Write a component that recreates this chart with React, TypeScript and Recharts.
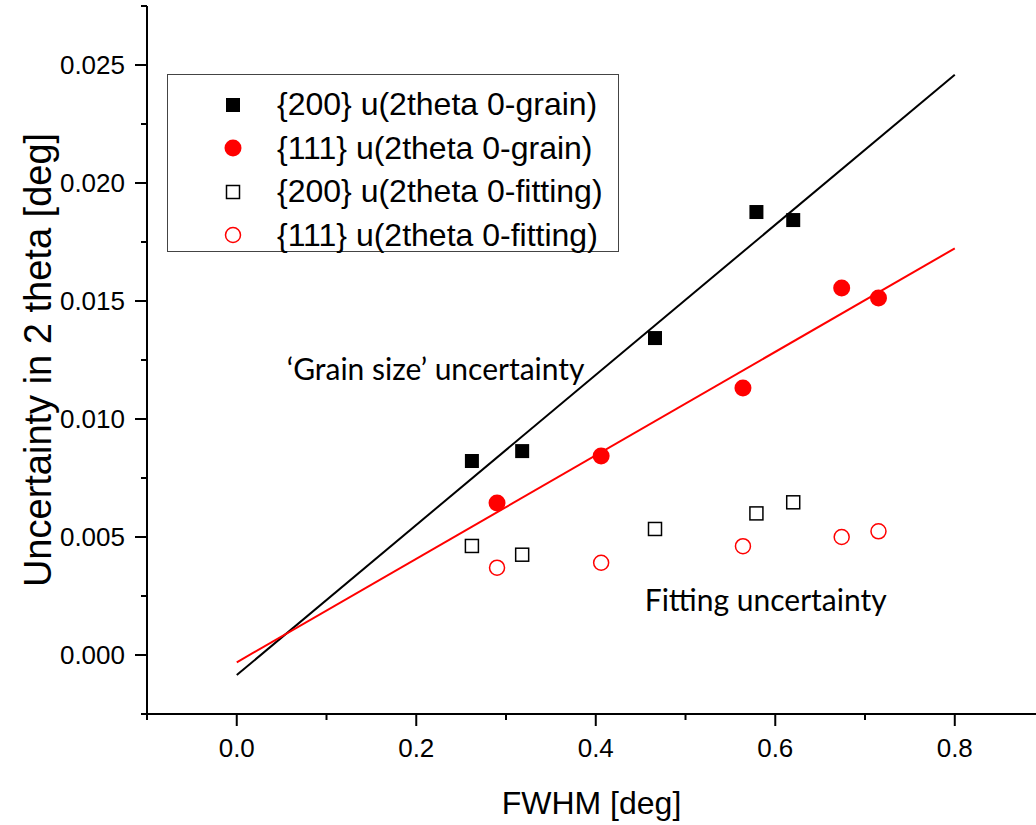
import React from 'react';
import { ScatterChart, Scatter, XAxis, YAxis, Legend, ReferenceDot } from 'recharts';

// ---- data ----
const x200 = [0.262, 0.318, 0.466, 0.579, 0.620];
const x111 = [0.290, 0.406, 0.564, 0.674, 0.715];
const y200Grain = [0.00822, 0.00864, 0.01343, 0.01877, 0.01843];
const y111Grain = [0.00644, 0.00843, 0.01131, 0.01555, 0.01513];
const y200Fit = [0.00462, 0.00425, 0.00534, 0.00600, 0.00647];
const y111Fit = [0.00370, 0.00391, 0.00461, 0.00500, 0.00524];

const fitX = [0, 0.8];
const fit200Y = [-0.00085, 0.02459];
const fit111Y = [-0.00031, 0.01723];

const xMajorTicks = [0, 0.2, 0.4, 0.6, 0.8];
const xMinorTicks = [-0.1, 0.1, 0.3, 0.5, 0.7];
const yMajorTicks = [0, 0.005, 0.01, 0.015, 0.02, 0.025];
const yMinorTicks = [-0.0025, 0.0025, 0.0075, 0.0125, 0.0175, 0.0225, 0.0275];

const seriesNames = [
  '{200} u(2theta 0-grain)',
  '{111} u(2theta 0-grain)',
  '{200} u(2theta 0-fitting)',
  '{111} u(2theta 0-fitting)',
];

const annoGrain = { x: 0.0557, y: 0.01208, text: '\u2018Grain size\u2019 uncertainty' };
const annoFit = { x: 0.4546, y: 0.00229, text: 'Fitting uncertainty' };

const toPts = (xs: number[], ys: number[]) => xs.map((x, i) => ({ x, y: ys[i] }));

const ARIAL = '"Liberation Sans", Arial, sans-serif';
const CALIBRI = 'Lato, "Open Sans", sans-serif';

const isMajor = (v: number, majors: number[]) => majors.some((m) => Math.abs(m - v) < 1e-9);

const XTick = (props: any) => {
  const { x, y, payload } = props;
  const major = isMajor(payload.value, xMajorTicks);
  return (
    <g>
      <line x1={x} y1={y} x2={x} y2={y + (major ? 12 : 6)} stroke="#000" strokeWidth={2} />
      {major && (
        <text x={x} y={y + 34} dy="0.35em" textAnchor="middle" fontSize={26} fontFamily={ARIAL} fill="#000">
          {payload.value.toFixed(1)}
        </text>
      )}
    </g>
  );
};

const YTick = (props: any) => {
  const { x, y, payload } = props;
  const major = isMajor(payload.value, yMajorTicks);
  return (
    <g>
      <line x1={x} y1={y} x2={x - (major ? 12 : 6)} y2={y} stroke="#000" strokeWidth={2} />
      {major && (
        <text x={x - 22} y={y} dy="0.35em" textAnchor="end" fontSize={26} fontFamily={ARIAL} fill="#000">
          {payload.value.toFixed(3)}
        </text>
      )}
    </g>
  );
};

const FilledSquare = (p: any) => <rect x={p.cx - 7} y={p.cy - 7} width={14} height={14} fill="#000" />;
const FilledCircle = (p: any) => <circle cx={p.cx} cy={p.cy} r={8.5} fill="#ff0000" />;
const OpenSquare = (p: any) => (
  <rect x={p.cx - 6.5} y={p.cy - 6.5} width={13} height={13} fill="none" stroke="#000" strokeWidth={1.5} />
);
const OpenCircle = (p: any) => (
  <circle cx={p.cx} cy={p.cy} r={7.5} fill="none" stroke="#ff0000" strokeWidth={1.5} />
);
const NoShape = () => <g />;

const markerIcons = [
  <rect x={5} y={5} width={14} height={14} fill="#000" />,
  <circle cx={12} cy={12} r={8.5} fill="#ff0000" />,
  <rect x={5.5} y={5.5} width={13} height={13} fill="none" stroke="#000" strokeWidth={1.5} />,
  <circle cx={12} cy={12} r={7.5} fill="none" stroke="#ff0000" strokeWidth={1.5} />,
];

const LegendBox = () => (
  <div
    style={{
      width: 452,
      height: 178,
      boxSizing: 'border-box',
      border: '1.5px solid #444',
      background: '#fff',
      paddingTop: 8,
    }}
  >
    {seriesNames.map((name, i) => (
      <div key={name} style={{ display: 'flex', alignItems: 'center', height: 43.5 }}>
        <svg width={24} height={24} style={{ marginLeft: 53 }}>
          {markerIcons[i]}
        </svg>
        <span style={{ marginLeft: 32, fontSize: 32, fontFamily: ARIAL, color: '#000', whiteSpace: 'nowrap' }}>
          {name}
        </span>
      </div>
    ))}
  </div>
);

const annoLabel = (text: string) => (props: any) => {
  const { viewBox } = props;
  return (
    <text x={viewBox.x} y={viewBox.y} dy="0.35em" fontSize={30} fontFamily={CALIBRI} fill="#000">
      {text}
    </text>
  );
};

export default function App() {
  return (
    <div style={{ position: 'absolute', left: 0, top: 0, background: '#fff' }}>
      <ScatterChart width={1036} height={825} margin={{ top: 6, right: 0, bottom: 0, left: 0 }}>
        <XAxis
          type="number"
          dataKey="x"
          domain={[-0.1, 0.8905]}
          allowDataOverflow
          ticks={[...xMinorTicks, ...xMajorTicks].sort((a, b) => a - b)}
          interval={0}
          tickSize={0}
          tickMargin={0}
          tickLine={false}
          tick={<XTick />}
          axisLine={{ stroke: '#000', strokeWidth: 2 }}
          height={111}
          label={{
            content: (p: any) => {
              const vb = p.viewBox;
              return (
                <text x={vb.x + vb.width / 2} y={803} dy="0.35em" textAnchor="middle" fontSize={32} fontFamily={ARIAL} fill="#000">
                  FWHM [deg]
                </text>
              );
            },
          }}
        />
        <YAxis
          type="number"
          dataKey="y"
          domain={[-0.0025, 0.0275]}
          allowDataOverflow
          ticks={[...yMinorTicks, ...yMajorTicks].sort((a, b) => a - b)}
          interval={0}
          tickSize={0}
          tickMargin={0}
          tickLine={false}
          tick={<YTick />}
          axisLine={{ stroke: '#000', strokeWidth: 2 }}
          width={147}
          label={{
            content: (p: any) => {
              const vb = p.viewBox;
              const cy = vb.y + vb.height / 2;
              return (
                <text
                  x={38}
                  y={cy}
                  dy="0.35em"
                  textAnchor="middle"
                  fontSize={38}
                  fontFamily={ARIAL}
                  fill="#000"
                  transform={`rotate(-90, 38, ${cy})`}
                >
                  Uncertainty in 2 theta [deg]
                </text>
              );
            },
          }}
        />
        <Scatter data={toPts(fitX, fit200Y)} line={{ stroke: '#000', strokeWidth: 2 }} shape={NoShape} isAnimationActive={false} legendType="none" />
        <Scatter data={toPts(fitX, fit111Y)} line={{ stroke: '#ff0000', strokeWidth: 2 }} shape={NoShape} isAnimationActive={false} legendType="none" />
        <Scatter name={seriesNames[0]} data={toPts(x200, y200Grain)} shape={FilledSquare} isAnimationActive={false} />
        <Scatter name={seriesNames[1]} data={toPts(x111, y111Grain)} shape={FilledCircle} isAnimationActive={false} />
        <Scatter name={seriesNames[2]} data={toPts(x200, y200Fit)} shape={OpenSquare} isAnimationActive={false} />
        <Scatter name={seriesNames[3]} data={toPts(x111, y111Fit)} shape={OpenCircle} isAnimationActive={false} />
        <ReferenceDot x={annoGrain.x} y={annoGrain.y} r={0} stroke="none" fill="none" label={{ content: annoLabel(annoGrain.text) }} />
        <ReferenceDot x={annoFit.x} y={annoFit.y} r={0} stroke="none" fill="none" label={{ content: annoLabel(annoFit.text) }} />
        <Legend
          layout="vertical"
          align="center"
          verticalAlign="middle"
          content={<LegendBox />}
          wrapperStyle={{ left: 167, top: 74, width: 452, height: 178 }}
        />
      </ScatterChart>
    </div>
  );
}
